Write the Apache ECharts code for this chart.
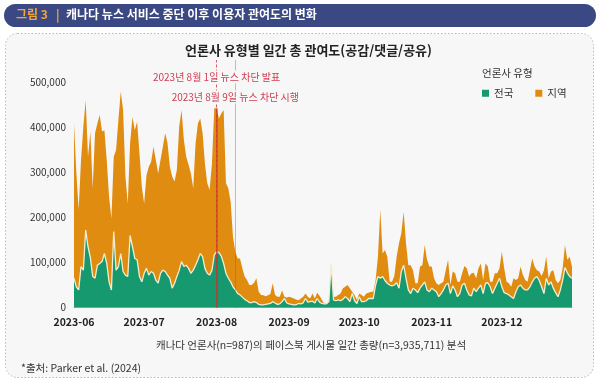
<!DOCTYPE html>
<html><head><meta charset="utf-8">
<script src="https://cdn.jsdelivr.net/npm/echarts@6/dist/echarts.min.js"></script>
<style>html,body{margin:0;padding:0;background:#fff}#c{width:600px;height:381px}</style>
</head><body><div id="c"></div>
<script>
// ---- data (values in thousands) ----
const startDate = '2023-06-01';
const dayCount = 214;
const monthLabels = ['2023-06','2023-07','2023-08','2023-09','2023-10','2023-11','2023-12'];
const yTicks = [0,100000,200000,300000,400000,500000];
const nationalK = [
65,46,39,91,83,172,135,111,69,65,94,98,102,120,98,57,39,169,83,91,120,80,72,69,160,135,109,106,69,57,76,87,72,80,
76,61,54,76,83,80,72,65,43,54,69,83,102,91,94,87,76,83,94,106,120,113,87,76,72,83,117,124,122,114,98,76,65,57,46,
39,31,28,23,18,15,11,11,13,11,7,6,6,7,8,9,13,10,7,8,13,20,10,8,7,6,6,9,8,10,20,12,
13,14,10,20,12,9,8,8,13,98,17,15,17,15,18,24,20,13,31,15,9,24,13,13,15,20,20,20,50,69,65,69,60,54,50,48,50,55,
43,80,94,65,39,31,43,39,33,43,50,57,39,35,43,39,35,24,31,39,50,54,31,48,39,24,31,50,54,39,28,26,43,35,43,
50,31,54,55,46,31,43,54,65,46,33,31,28,24,20,35,46,50,43,39,39,46,57,65,69,60,46,31,65,50,57,43,33,24,39,61,89,77,69,65];
const localK = [
344,254,178,237,319,289,200,280,196,322,315,330,289,274,230,189,159,166,267,326,360,359,219,162,205,289,285,307,274,212,155,207,241,244,
281,267,244,252,274,307,293,248,248,226,237,319,337,281,241,230,222,182,271,303,300,274,233,200,189,237,326,319,298,317,341,200,200,178,111,
85,78,81,64,51,46,39,39,42,54,28,22,21,18,19,21,41,18,17,16,25,4,12,16,15,14,12,7,12,14,11,12,
7,17,10,13,14,8,1,1,0,0,7,9,11,16,25,22,30,30,4,13,8,7,15,11,16,13,15,15,11,44,152,51,68,59,7,9,20,58,
100,85,119,78,55,63,40,15,21,48,44,82,67,56,48,26,19,26,23,18,33,52,19,32,37,33,26,26,38,48,41,50,34,30,44,
48,30,44,36,11,26,33,22,22,78,54,26,26,22,45,26,19,41,29,22,18,37,52,26,14,20,24,52,48,15,23,40,28,30,22,26,50,29,44,26];
const eventAnnounce = '2023-08-01';
const eventBlock = '2023-08-09';
const eventAnnounceText = '2023년 8월 1일 뉴스 차단 발표';
const eventBlockText = '2023년 8월 9일 뉴스 차단 시행';

// ---- build ----
const dates = [];
{ const d0 = new Date(startDate + 'T00:00:00Z');
  for (let i = 0; i < dayCount; i++) { const d = new Date(d0.getTime() + i*86400000); dates.push(d.toISOString().slice(0,10)); } }
const national = nationalK.map(v => v*1000);
const local = localK.map(v => v*1000);
const announceIdx = dates.indexOf(eventAnnounce);
const announceTotal = national[announceIdx] + local[announceIdx];

const FONT = '"Noto Sans CJK KR", "Noto Sans", sans-serif';
const GREEN = '#17996f', ORANGE = '#df8c10', BG = '#f7f7f7';
const chart = echarts.init(document.getElementById('c'), null, {renderer:'canvas'});
chart.setOption({
  backgroundColor: '#ffffff',
  animation: false,
  textStyle: {fontFamily: FONT},
  graphic: [
    {id:'frame', type:'rect', shape:{x:5.5,y:33.5,width:588,height:344,r:12}, style:{fill:BG, stroke:'#b8b8b8', lineWidth:1, lineDash:[1.5,2]}, z:-10},
    {id:'bar', type:'rect', shape:{x:4,y:4,width:592,height:23,r:11.5}, style:{fill:'#3a4883'}, z:-5},
    {id:'h1', type:'text', left:16, top:8, style:{text:'그림 3', fill:'#f3a43a', font:'bold 12px "Noto Sans CJK KR"'}},
    {id:'h2', type:'text', left:56, top:8, style:{text:'|', fill:'#f3a43a', font:'bold 12px "Noto Sans CJK KR"'}},
    {id:'h3', type:'text', left:66, top:8, style:{text:'캐나다 뉴스 서비스 중단 이후 이용자 관여도의 변화', fill:'#ffffff', font:'bold 12px "Noto Sans CJK KR"'}}
  ],
  title: [
    {text:'언론사 유형별 일간 총 관여도(공감/댓글/공유)', left:180, top:39, textStyle:{fontSize:13, fontWeight:'bold', color:'#222', fontFamily:FONT}},
    {text:'언론사 유형', left:477, top:63, textStyle:{fontSize:10.5, fontWeight:'normal', color:'#333', fontFamily:FONT}},
    {text:'캐나다 언론사(n=987)의 페이스북 게시물 일간 총량(n=3,935,711) 분석', left:151, top:335, textStyle:{fontSize:10.5, fontWeight:'normal', color:'#333', fontFamily:FONT}},
    {text:'*출처: Parker et al. (2024)', left:16, top:358, textStyle:{fontSize:10.5, fontWeight:'normal', color:'#333', fontFamily:FONT}}
  ],
  legend: {
    left: 477, top: 83, icon:'rect', itemWidth:7, itemHeight:7, itemGap:22,
    textStyle:{fontSize:10.5, color:'#333', fontFamily:FONT},
    data:['전국','지역']
  },
  grid: {left:74, right:28, top:60, bottom:73.5},
  xAxis: {
    type:'category', data: dates, boundaryGap:false,
    axisLine:{show:true, lineStyle:{color:'#bdbdbd', width:1}},
    axisTick:{show:false},
    axisLabel:{
      interval: (i, v) => monthLabels.indexOf(v.slice(0,7)) >= 0 && v.slice(8) === '01',
      formatter: v => v.slice(0,7),
      fontSize:10.5, fontWeight:'bold', color:'#222', margin:9, fontFamily:FONT
    },
    splitLine:{show:false}
  },
  yAxis: {
    type:'value', min:0, max:550000, interval:100000,
    axisLine:{show:false}, axisTick:{show:false}, splitLine:{show:false},
    axisLabel:{
      formatter: v => yTicks.indexOf(v) >= 0 ? v.toLocaleString('en-US') : '',
      fontSize:10, color:'#333', margin:8, fontFamily:FONT
    }
  },
  series: [
    {
      name:'전국', type:'line', stack:'total', data: national, symbol:'none', z:4,
      itemStyle:{color:GREEN},
      lineStyle:{color:'#f2ecd2', width:1.3},
      areaStyle:{color:GREEN, opacity:1}
    },
    {
      name:'지역', type:'line', stack:'total', data: local, symbol:'none', z:3,
      itemStyle:{color:ORANGE},
      lineStyle:{width:0},
      areaStyle:{color:ORANGE, opacity:1},
      markLine: {
        silent:true, symbol:['none','none'], z:10, label:{show:false},
        data: [
          {xAxis: eventAnnounce, lineStyle:{color:'rgba(215,60,75,0.85)', type:[3,2], width:1}},
          {xAxis: eventBlock, lineStyle:{color:'rgba(215,60,75,0.85)', type:'dotted', width:1}},
          [{coord:[eventAnnounce, 0], lineStyle:{color:'rgba(205,45,30,0.65)', type:'solid', width:1.5}},
           {coord:[eventAnnounce, announceTotal]}]
        ]
      }
    }
  ]
});
// event annotation texts, centred on their event lines (positions from the axis)
const xA = chart.convertToPixel({xAxisIndex:0}, eventAnnounce);
const xB = chart.convertToPixel({xAxisIndex:0}, eventBlock);
const mctx = document.createElement('canvas').getContext('2d');
mctx.font = '10px "Noto Sans CJK KR"';
const wA = mctx.measureText(eventAnnounceText).width;
const wB = mctx.measureText(eventBlockText).width;
chart.setOption({graphic: [
  {id:'evAbg', type:'rect', z:99, shape:{x:xA - wA/2 - 3, y:70.5, width:wA + 6, height:13}, style:{fill:BG}},
  {id:'evBbg', type:'rect', z:99, shape:{x:xB - wB/2 - 3, y:90.5, width:wB + 6, height:13}, style:{fill:BG}},
  {id:'evA', type:'text', x:xA, y:77, z:100, style:{text:eventAnnounceText, fill:'#cf3d52', font:'10px "Noto Sans CJK KR"', align:'center', verticalAlign:'middle'}},
  {id:'evB', type:'text', x:xB, y:97, z:100, style:{text:eventBlockText, fill:'#cf3d52', font:'10px "Noto Sans CJK KR"', align:'center', verticalAlign:'middle'}}
]});
</script></body></html>
